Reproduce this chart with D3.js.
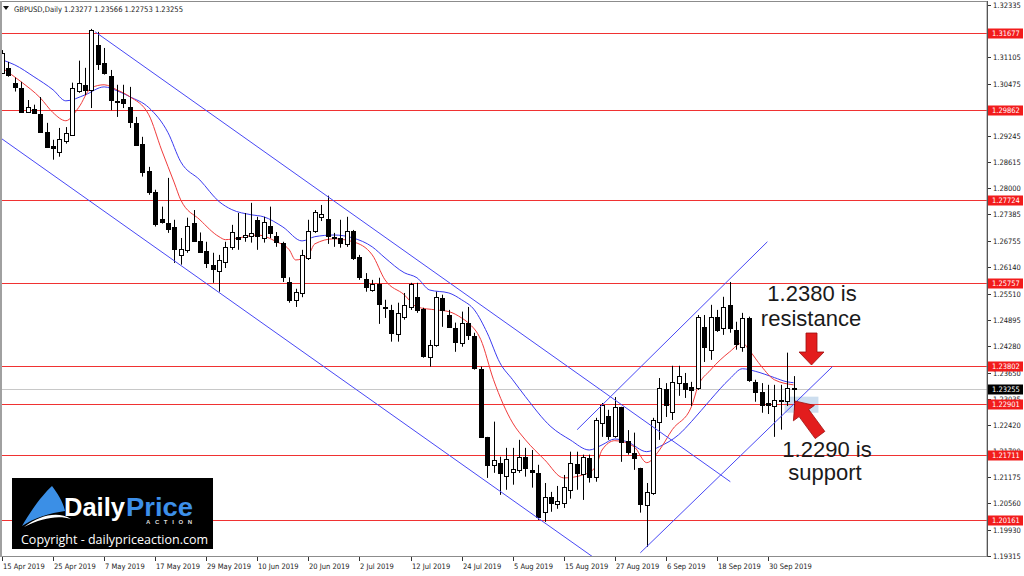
<!DOCTYPE html>
<html>
<head>
<meta charset="utf-8">
<script src="https://cdn.jsdelivr.net/npm/d3@7"></script>
<style>
html, body { margin: 0; padding: 0; background: #fff; }
svg { display: block; }
.small { font-family: "DejaVu Sans Condensed", "DejaVu Sans", sans-serif; font-size: 7.5px; }
.note { font-family: "Liberation Sans", Arial, sans-serif; font-size: 22px; fill: #1a1a1a; }
</style>
</head>
<body>
<div id="chart"></div>
<script>
// GBPUSD daily bars, 15 Apr 2019 .. 4 Oct 2019
var open = [
  1.3073, 1.3085, 1.3050, 1.3038, 1.2981, 1.2988, 1.2976, 1.2934, 1.2901, 1.2887,
  1.2913, 1.2927, 1.3031, 1.3045, 1.3033, 1.3140, 1.3097, 1.3066, 1.3006, 1.3012,
  1.2993, 1.2955, 1.2906, 1.2842, 1.2792, 1.2728, 1.2719, 1.2709, 1.2643, 1.2655,
  1.2719, 1.2676, 1.2653, 1.2620, 1.2605, 1.2627, 1.2662, 1.2686, 1.2686, 1.2688,
  1.2726, 1.2683, 1.2712, 1.2688, 1.2672, 1.2580, 1.2537, 1.2553, 1.2636, 1.2700,
  1.2733, 1.2728, 1.2686, 1.2683, 1.2669, 1.2700, 1.2638, 1.2587, 1.2560, 1.2575,
  1.2520, 1.2513, 1.2457, 1.2497, 1.2520, 1.2544, 1.2516, 1.2402, 1.2430, 1.2542,
  1.2501, 1.2471, 1.2435, 1.2483, 1.2452, 1.2374, 1.2213, 1.2147, 1.2152, 1.2121,
  1.2130, 1.2135, 1.2166, 1.2135, 1.2128, 1.2036, 1.2071, 1.2055, 1.2057, 1.2088,
  1.2149, 1.2126, 1.2163, 1.2119, 1.2246, 1.2263, 1.2216, 1.2284, 1.2204, 1.2175,
  1.2140, 1.2053, 1.2081, 1.2249, 1.2326, 1.2272, 1.2341, 1.2341, 1.2331, 1.2329,
  1.2473, 1.2419, 1.2497, 1.2471, 1.2525, 1.2466, 1.2426, 1.2494, 1.2343, 1.2319,
  1.2293, 1.2286, 1.2298, 1.2298, 1.23277
];
var high = [
  1.3127, 1.3099, 1.3062, 1.3052, 1.3009, 1.2998, 1.3016, 1.2955, 1.2915, 1.2943,
  1.2945, 1.3050, 1.3102, 1.3085, 1.3177, 1.3170, 1.3132, 1.3080, 1.3045, 1.3045,
  1.3040, 1.2969, 1.2922, 1.2851, 1.2797, 1.2757, 1.2825, 1.2726, 1.2683, 1.2731,
  1.2749, 1.2696, 1.2674, 1.2648, 1.2643, 1.2674, 1.2714, 1.2742, 1.2742, 1.2766,
  1.2733, 1.2733, 1.2757, 1.2697, 1.2674, 1.2590, 1.2563, 1.2655, 1.2726, 1.2749,
  1.2761, 1.2783, 1.2695, 1.2726, 1.2733, 1.2702, 1.2643, 1.2600, 1.2584, 1.2589,
  1.2537, 1.2525, 1.2530, 1.2553, 1.2577, 1.2577, 1.2518, 1.2442, 1.2556, 1.2549,
  1.2513, 1.2483, 1.2509, 1.2520, 1.2459, 1.2379, 1.2213, 1.2249, 1.2166, 1.2187,
  1.2187, 1.2206, 1.2187, 1.2182, 1.2147, 1.2104, 1.2083, 1.2097, 1.2123, 1.2178,
  1.2178, 1.2171, 1.2171, 1.2258, 1.2293, 1.2277, 1.2307, 1.2284, 1.2229, 1.2223,
  1.2140, 1.2104, 1.2258, 1.2352, 1.2340, 1.2381, 1.2381, 1.2364, 1.2343, 1.2501,
  1.2501, 1.2525, 1.2513, 1.2544, 1.2579, 1.2485, 1.2506, 1.2497, 1.2348, 1.2340,
  1.2336, 1.2336, 1.2336, 1.2412, 1.23566
];
var low = [
  1.3071, 1.3064, 1.3029, 1.2979, 1.2979, 1.2976, 1.2932, 1.2896, 1.2868, 1.2875,
  1.2906, 1.2927, 1.3026, 1.3021, 1.2990, 1.3080, 1.3069, 1.2985, 1.2969, 1.2990,
  1.2943, 1.2903, 1.2828, 1.2785, 1.2710, 1.2717, 1.2695, 1.2624, 1.2620, 1.2648,
  1.2674, 1.2648, 1.2612, 1.2577, 1.2556, 1.2612, 1.2655, 1.2655, 1.2674, 1.2672,
  1.2655, 1.2672, 1.2683, 1.2662, 1.2579, 1.2530, 1.2520, 1.2543, 1.2631, 1.2695,
  1.2723, 1.2669, 1.2662, 1.2660, 1.2662, 1.2631, 1.2584, 1.2556, 1.2556, 1.2480,
  1.2494, 1.2438, 1.2438, 1.2490, 1.2513, 1.2506, 1.2400, 1.2379, 1.2426, 1.2473,
  1.2471, 1.2414, 1.2426, 1.2442, 1.2372, 1.2211, 1.2116, 1.2128, 1.2076, 1.2088,
  1.2100, 1.2128, 1.2119, 1.2093, 1.2017, 1.2012, 1.2036, 1.2043, 1.2045, 1.2067,
  1.2088, 1.2064, 1.2105, 1.2107, 1.2213, 1.2206, 1.2211, 1.2154, 1.2171, 1.2135,
  1.2034, 1.1953, 1.2076, 1.2206, 1.2260, 1.2253, 1.2310, 1.2305, 1.2286, 1.2324,
  1.2390, 1.2395, 1.2461, 1.2454, 1.2459, 1.2419, 1.2414, 1.2343, 1.2296, 1.2270,
  1.2267, 1.2213, 1.2230, 1.2286, 1.22753
];
var close = [
  1.3120, 1.3069, 1.3040, 1.2981, 1.2993, 1.2979, 1.2934, 1.2898, 1.2896, 1.2917,
  1.2931, 1.3038, 1.3050, 1.3033, 1.3174, 1.3093, 1.3073, 1.3009, 1.3004, 1.3002,
  1.2958, 1.2903, 1.2840, 1.2792, 1.2717, 1.2721, 1.2705, 1.2657, 1.2657, 1.2712,
  1.2676, 1.2650, 1.2624, 1.2610, 1.2631, 1.2662, 1.2697, 1.2681, 1.2690, 1.2695,
  1.2688, 1.2721, 1.2695, 1.2674, 1.2590, 1.2537, 1.2556, 1.2643, 1.2700, 1.2745,
  1.2740, 1.2688, 1.2683, 1.2672, 1.2700, 1.2636, 1.2591, 1.2568, 1.2575, 1.2527,
  1.2518, 1.2459, 1.2506, 1.2525, 1.2575, 1.2513, 1.2405, 1.2430, 1.2544, 1.2513,
  1.2473, 1.2438, 1.2483, 1.2454, 1.2376, 1.2213, 1.2147, 1.2159, 1.2128, 1.2161,
  1.2137, 1.2166, 1.2140, 1.2130, 1.2024, 1.2071, 1.2057, 1.2062, 1.2095, 1.2152,
  1.2128, 1.2166, 1.2119, 1.2253, 1.2289, 1.2216, 1.2284, 1.2201, 1.2178, 1.2163,
  1.2055, 1.2083, 1.2253, 1.2329, 1.2289, 1.2343, 1.2357, 1.2326, 1.2324, 1.2497,
  1.2426, 1.2497, 1.2466, 1.2520, 1.2471, 1.2433, 1.2494, 1.2348, 1.2319, 1.2289,
  1.2289, 1.2300, 1.2300, 1.2329, 1.23255
];

// moving averages (bar index -> price)
var maSlowIdx = [0, 2, 5, 8, 10, 13, 16, 18, 20, 23, 26, 28, 31, 34, 36, 39, 41, 44, 47, 49, 52, 55, 58, 60, 63, 65, 67, 70, 72, 74, 76, 78, 80, 82, 86, 89, 92, 94, 96, 98, 101, 103, 106, 108, 111, 114, 116, 118, 121, 123, 124];
var maSlowVal = [1.3104, 1.3092, 1.3064, 1.3033, 1.3007, 1.3021, 1.3040, 1.3031, 1.3017, 1.2991, 1.2932, 1.2863, 1.2820, 1.2769, 1.2750, 1.2738, 1.2733, 1.2709, 1.2676, 1.2686, 1.2690, 1.2683, 1.2662, 1.2636, 1.2601, 1.2589, 1.2560, 1.2553, 1.2537, 1.2513, 1.2459, 1.2388, 1.2348, 1.2308, 1.2237, 1.2206, 1.2182, 1.2194, 1.2208, 1.2201, 1.2178, 1.2190, 1.2218, 1.2249, 1.2301, 1.2350, 1.2374, 1.2368, 1.2353, 1.2343, 1.2341];
var maFastIdx = [0, 3, 6, 8, 10, 12, 14, 16, 18, 20, 23, 25, 27, 28, 31, 34, 35, 37, 40, 43, 45, 46, 48, 49, 52, 55, 58, 60, 63, 65, 68, 70, 72, 73, 75, 77, 80, 82, 85, 88, 91, 93, 94, 96, 99, 101, 103, 105, 108, 109, 111, 114, 116, 117, 119, 121, 124];
var maFastVal = [1.3085, 1.3052, 1.3014, 1.2979, 1.2960, 1.2991, 1.3038, 1.3045, 1.3033, 1.3017, 1.2974, 1.2891, 1.2813, 1.2773, 1.2726, 1.2686, 1.2679, 1.2683, 1.2690, 1.2674, 1.2655, 1.2631, 1.2643, 1.2669, 1.2681, 1.2674, 1.2643, 1.2584, 1.2549, 1.2520, 1.2513, 1.2509, 1.2494, 1.2483, 1.2443, 1.2348, 1.2246, 1.2206, 1.2159, 1.2116, 1.2123, 1.2142, 1.2182, 1.2204, 1.2190, 1.2152, 1.2182, 1.2230, 1.2284, 1.2331, 1.2371, 1.2414, 1.2435, 1.2419, 1.2379, 1.2348, 1.2336];

// horizontal levels and current price
var levels = [1.31677, 1.29862, 1.27724, 1.25757, 1.23802, 1.22901, 1.21711, 1.20161];
var lastPrice = 1.23255;

// price axis ticks (the ones not hidden by a level label)
var priceTicks = [1.32335, 1.31105, 1.30475, 1.29245, 1.28615, 1.28000, 1.27385, 1.26755, 1.26140, 1.25510, 1.24895, 1.24280, 1.23650, 1.23035, 1.22420, 1.21790, 1.21175, 1.20560, 1.19930, 1.19315];

// date axis (bar index of each label)
var dateIdx = [0, 8, 16, 24, 32, 40, 48, 56, 64, 72, 80, 88, 96, 104, 112, 120];
var dateLabels = ["15 Apr 2019", "25 Apr 2019", "7 May 2019", "17 May 2019", "29 May 2019", "10 Jun 2019", "20 Jun 2019", "2 Jul 2019", "12 Jul 2019", "24 Jul 2019", "5 Aug 2019", "15 Aug 2019", "27 Aug 2019", "6 Sep 2019", "18 Sep 2019", "30 Sep 2019"];

// trend lines: [bar1, price1, bar2, price2]
var trendLines = [
  [14.6, 1.3170, 114.1, 1.2107],
  [0.0, 1.2917, 92.5, 1.1930],
  [90.1, 1.2230, 119.9, 1.2674],
  [100.0, 1.1939, 130.1, 1.2379]
];

var width = 1024, height = 576;
var plotL = 2, plotR = 987, plotT = 2, plotB = 556;

var svg = d3.select("#chart").append("svg")
  .attr("width", width)
  .attr("height", height);

svg.append("rect").attr("width", width).attr("height", height).attr("fill", "#fff");

var x = d3.scaleLinear().domain([0, 120]).range([2, 768]);
var y = d3.scaleLinear().domain([1.19315, 1.32335]).range([556, 5]);

svg.append("defs").append("clipPath").attr("id", "plotclip")
  .append("rect")
  .attr("x", plotL).attr("y", plotT)
  .attr("width", plotR - plotL).attr("height", plotB - plotT);

var plot = svg.append("g").attr("clip-path", "url(#plotclip)");

// support zone highlight
plot.append("rect")
  .attr("x", x(122.6))
  .attr("y", y(1.2308))
  .attr("width", x(127.9) - x(122.6))
  .attr("height", y(1.2270) - y(1.2308))
  .attr("fill", "#bcd3ea")
  .attr("opacity", 0.75);

// current price line
plot.append("line")
  .attr("x1", plotL).attr("x2", plotR)
  .attr("y1", Math.round(y(lastPrice)) + 0.5).attr("y2", Math.round(y(lastPrice)) + 0.5)
  .attr("stroke", "#c8c8c8").attr("stroke-width", 1);

// horizontal levels
plot.selectAll(".level")
  .data(levels)
  .enter()
  .append("line")
  .attr("class", "level")
  .attr("x1", plotL).attr("x2", plotR)
  .attr("y1", function(d) { return Math.round(y(d)) + 0.5; })
  .attr("y2", function(d) { return Math.round(y(d)) + 0.5; })
  .attr("stroke", "#f03232").attr("stroke-width", 1.2);

// moving averages
var maLine = d3.line()
  .x(function(d) { return x(d[0]); })
  .y(function(d) { return y(d[1]); })
  .curve(d3.curveMonotoneX);

plot.append("path")
  .datum(maSlowIdx.map(function(d, i) { return [d, maSlowVal[i]]; }))
  .attr("d", maLine)
  .attr("fill", "none").attr("stroke", "#3b3bf0").attr("stroke-width", 1);

plot.append("path")
  .datum(maFastIdx.map(function(d, i) { return [d, maFastVal[i]]; }))
  .attr("d", maLine)
  .attr("fill", "none").attr("stroke", "#f03c3c").attr("stroke-width", 1);

// candles
var bars = d3.range(open.length).map(function(i) {
  return { i: i, o: open[i], h: high[i], l: low[i], c: close[i] };
});

function cx(d) { return Math.round(x(d.i)); }

plot.selectAll(".wick")
  .data(bars)
  .enter()
  .append("line")
  .attr("class", "wick")
  .attr("x1", function(d) { return cx(d) + 0.5; })
  .attr("x2", function(d) { return cx(d) + 0.5; })
  .attr("y1", function(d) { return y(d.h); })
  .attr("y2", function(d) { return y(d.l); })
  .attr("stroke", "#000").attr("stroke-width", 1);

plot.selectAll(".body")
  .data(bars)
  .enter()
  .append("rect")
  .attr("class", "body")
  .attr("x", function(d) { return cx(d) - 1.5; })
  .attr("y", function(d) { return Math.round(y(Math.max(d.o, d.c))) + 0.5; })
  .attr("width", 4)
  .attr("height", function(d) { return Math.max(0.01, Math.round(y(Math.min(d.o, d.c))) - Math.round(y(Math.max(d.o, d.c)))); })
  .attr("fill", function(d) { return d.c >= d.o ? "#fff" : "#000"; })
  .attr("stroke", "#000").attr("stroke-width", 1);

// trend lines
plot.selectAll(".trend")
  .data(trendLines)
  .enter()
  .append("line")
  .attr("class", "trend")
  .attr("x1", function(d) { return x(d[0]); })
  .attr("y1", function(d) { return y(d[1]); })
  .attr("x2", function(d) { return x(d[2]); })
  .attr("y2", function(d) { return y(d[3]); })
  .attr("stroke", "#4848f5").attr("stroke-width", 1);

// frame
svg.append("rect")
  .attr("x", 1.5).attr("y", 1.5)
  .attr("width", plotR - 1.5).attr("height", plotB - 1)
  .attr("fill", "none").attr("stroke", "#8c8c8c").attr("stroke-width", 1);
svg.append("line")
  .attr("x1", 1).attr("x2", 1).attr("y1", 1).attr("y2", plotB + 1)
  .attr("stroke", "#a0a0a0").attr("stroke-width", 2);
svg.append("line")
  .attr("x1", plotR + 0.5).attr("x2", plotR + 0.5).attr("y1", 1).attr("y2", plotB + 1)
  .attr("stroke", "#555").attr("stroke-width", 1);

// price axis
var yAxis = svg.append("g");
yAxis.selectAll(".ptick")
  .data(priceTicks)
  .enter()
  .append("line")
  .attr("x1", plotR + 1).attr("x2", plotR + 4)
  .attr("y1", function(d) { return Math.round(y(d)) + 0.5; })
  .attr("y2", function(d) { return Math.round(y(d)) + 0.5; })
  .attr("stroke", "#333");
yAxis.selectAll(".plabel")
  .data(priceTicks)
  .enter()
  .append("text")
  .attr("class", "small")
  .attr("x", plotR + 6)
  .attr("y", function(d) { return y(d) + 3; })
  .attr("fill", "#222")
  .text(function(d) { return d.toFixed(5); });

// red level labels
var lv = svg.selectAll(".lvlabel")
  .data(levels)
  .enter()
  .append("g")
  .attr("transform", function(d) { return "translate(" + (plotR + 1) + "," + Math.round(y(d)) + ")"; });
lv.append("rect")
  .attr("x", 0).attr("y", -4.5).attr("width", 35).attr("height", 10)
  .attr("fill", "#f21c1c");
lv.append("text")
  .attr("class", "small")
  .attr("x", 4).attr("y", 3.2)
  .attr("fill", "#fff")
  .text(function(d) { return d.toFixed(5); });

// last price label
var lp = svg.append("g")
  .attr("transform", "translate(" + (plotR + 1) + "," + Math.round(y(lastPrice)) + ")");
lp.append("rect")
  .attr("x", 0).attr("y", -4.5).attr("width", 35).attr("height", 10)
  .attr("fill", "#000");
lp.append("text")
  .attr("class", "small")
  .attr("x", 4).attr("y", 3.2)
  .attr("fill", "#fff")
  .text(lastPrice.toFixed(5));

// date axis
var xAxis = svg.append("g");
xAxis.selectAll(".dtick")
  .data(dateIdx)
  .enter()
  .append("line")
  .attr("x1", function(d) { return Math.round(x(d)) + 0.5; })
  .attr("x2", function(d) { return Math.round(x(d)) + 0.5; })
  .attr("y1", plotB + 1).attr("y2", plotB + 5)
  .attr("stroke", "#333");
xAxis.selectAll(".dlabel")
  .data(dateIdx)
  .enter()
  .append("text")
  .attr("class", "small")
  .attr("x", function(d) { return Math.round(x(d)) + 1; })
  .attr("y", 569)
  .attr("fill", "#222")
  .text(function(d, i) { return dateLabels[i]; });

// header
svg.append("path").attr("d", "M3,6 L9,6 L6,10 Z").attr("fill", "#111");
svg.append("text")
  .attr("x", 14).attr("y", 12)
  .attr("font-family", "DejaVu Sans Condensed, DejaVu Sans, sans-serif")
  .attr("font-size", 7.6)
  .attr("textLength", 169).attr("lengthAdjust", "spacingAndGlyphs")
  .attr("fill", "#222")
  .text("GBPUSD,Daily  1.23277 1.23566 1.22753 1.23255");

// annotations
svg.append("text").attr("class", "note").attr("x", 812).attr("y", 301).attr("text-anchor", "middle").text("1.2380 is");
svg.append("text").attr("class", "note").attr("x", 811).attr("y", 326).attr("text-anchor", "middle").text("resistance");
svg.append("text").attr("class", "note").attr("x", 827).attr("y", 457).attr("text-anchor", "middle").text("1.2290 is");
svg.append("text").attr("class", "note").attr("x", 825).attr("y", 480).attr("text-anchor", "middle").text("support");

function arrowPath(tx, ty, bx, by, shaftW, headW, headL) {
  var dx = tx - bx, dy = ty - by;
  var len = Math.sqrt(dx * dx + dy * dy);
  var ux = dx / len, uy = dy / len, px = -uy, py = ux;
  var hx = tx - ux * headL, hy = ty - uy * headL;
  var pts = [
    [bx + px * shaftW / 2, by + py * shaftW / 2],
    [hx + px * shaftW / 2, hy + py * shaftW / 2],
    [hx + px * headW / 2, hy + py * headW / 2],
    [tx, ty],
    [hx - px * headW / 2, hy - py * headW / 2],
    [hx - px * shaftW / 2, hy - py * shaftW / 2],
    [bx - px * shaftW / 2, by - py * shaftW / 2]
  ];
  return "M" + pts.map(function(p) { return p[0].toFixed(1) + "," + p[1].toFixed(1); }).join("L") + "Z";
}

svg.append("path")
  .attr("d", arrowPath(811.5, 365, 811.5, 333, 11, 25, 13))
  .attr("fill", "#e31d1d").attr("stroke", "#9c0e0e").attr("stroke-width", 0.8);
svg.append("path")
  .attr("d", arrowPath(795, 401, 820, 435, 12, 26, 15))
  .attr("fill", "#e31d1d").attr("stroke", "#9c0e0e").attr("stroke-width", 0.8);

// logo
var logo = svg.append("g");
logo.append("rect").attr("x", 12).attr("y", 478).attr("width", 201).attr("height", 71).attr("fill", "#000");
logo.append("path")
  .attr("d", "M52,486 C44,493 31,510 22,526 C34,518 50,513 65,511 C63,501 57,493 52,486 Z")
  .attr("fill", "#3b8fe6");
logo.append("path")
  .attr("d", "M24,527 C40,515 58,511 71,519 C58,515 42,518 24,527 Z")
  .attr("fill", "#fff");
logo.append("text")
  .attr("x", 64).attr("y", 516)
  .attr("font-family", "Liberation Sans, Arial, sans-serif")
  .attr("font-weight", "bold").attr("font-size", 25)
  .attr("textLength", 61).attr("lengthAdjust", "spacingAndGlyphs")
  .attr("fill", "#fff").text("Daily");
logo.append("text")
  .attr("x", 126).attr("y", 516)
  .attr("font-family", "Liberation Sans, Arial, sans-serif")
  .attr("font-weight", "bold").attr("font-size", 25)
  .attr("textLength", 67).attr("lengthAdjust", "spacingAndGlyphs")
  .attr("fill", "#3d8fe8").text("Price");
logo.append("text")
  .attr("x", 146).attr("y", 524)
  .attr("font-family", "Liberation Sans, Arial, sans-serif")
  .attr("font-weight", "bold").attr("font-size", 6)
  .attr("textLength", 46).attr("lengthAdjust", "spacing")
  .attr("fill", "#ddd").text("ACTION");
logo.append("text")
  .attr("x", 21).attr("y", 544)
  .attr("font-family", "Open Sans, sans-serif")
  .attr("font-size", 13.5)
  .attr("textLength", 187).attr("lengthAdjust", "spacingAndGlyphs")
  .attr("fill", "#fff").text("Copyright - dailypriceaction.com");
</script>
</body>
</html>
